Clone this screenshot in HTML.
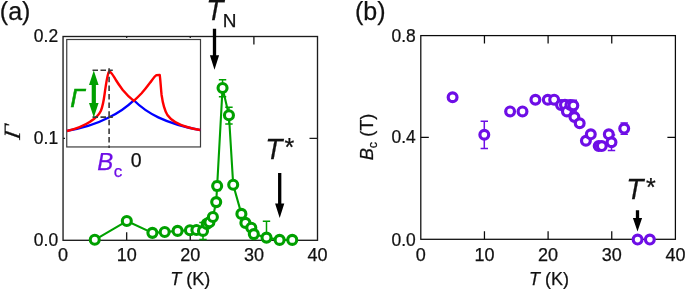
<!DOCTYPE html><html><head><meta charset="utf-8"><title>Figure</title>
<style>html,body{margin:0;padding:0;background:#fff}svg{display:block}text{font-family:"Liberation Sans",Arial,sans-serif;fill:#111;stroke:#111;stroke-width:0.25px}.i{font-style:italic}.s{font-family:"Liberation Serif",serif;font-style:italic}</style></head><body>
<svg width="685" height="289" viewBox="0 0 685 289">
<rect width="685" height="289" fill="#fff"/>
<rect x="63.05" y="36.5" width="254.45" height="203.80" fill="none" stroke="#1c1c1c" stroke-width="1.35"/>
<path d="M126.66 240.3v-8M126.66 36.5v8M190.27 240.3v-8M190.27 36.5v8M253.89 240.3v-8M253.89 36.5v8M63.05 138.40h8M317.5 138.40h-8" stroke="#1c1c1c" stroke-width="1.35" fill="none"/>
<rect x="420.8" y="35.6" width="254.60" height="203.70" fill="none" stroke="#0a0a0a" stroke-width="1.25"/>
<path d="M484.45 239.3v-8M484.45 35.6v8M548.10 239.3v-8M548.10 35.6v8M611.75 239.3v-8M611.75 35.6v8M420.8 137.45h8M675.4 137.45h-8" stroke="#0a0a0a" stroke-width="1.25" fill="none"/>
<path d="M222.55 79.7V96.7M218.85000000000002 79.7h7.4M218.85000000000002 96.7h7.4M228.95 107.3V123.9M225.25 107.3h7.4M225.25 123.9h7.4M203.0 222.4V239.4M199.3 222.4h7.4M199.3 239.4h7.4M266.5 221.2V240.3M262.8 221.2h7.4M262.8 240.3h7.4M217.15 181.4V190.4M213.45000000000002 181.4h7.4M213.45000000000002 190.4h7.4" stroke="#00a000" stroke-width="1.5" fill="none"/>
<polyline points="94.75,239.8 126.8,221.05 152.4,232.85 164.7,232.05 177.6,230.9 189.95,230.25 196.4,230.0 203.0,230.9 206.8,223.9 209.4,222.2 212.9,217.0 216.2,202.1 217.15,186.0 222.55,88.0 228.95,115.2 233.2,184.8 241.4,213.9 245.4,222.9 251.3,227.7 253.8,234.1 266.5,237.6 279.6,239.9 292.25,239.9" fill="none" stroke="#00a000" stroke-width="2.1" stroke-linejoin="round"/>
<g fill="#fff" stroke="#00a000" stroke-width="3.1">
<circle cx="94.75" cy="239.8" r="4.5"/>
<circle cx="126.8" cy="221.05" r="4.5"/>
<circle cx="152.4" cy="232.85" r="4.5"/>
<circle cx="164.7" cy="232.05" r="4.5"/>
<circle cx="177.6" cy="230.9" r="4.5"/>
<circle cx="189.95" cy="230.25" r="4.5"/>
<circle cx="196.4" cy="230.0" r="4.5"/>
<circle cx="203.0" cy="230.9" r="4.5"/>
<circle cx="206.8" cy="223.9" r="4.5"/>
<circle cx="209.4" cy="222.2" r="4.5"/>
<circle cx="212.9" cy="217.0" r="4.5"/>
<circle cx="216.2" cy="202.1" r="4.5"/>
<circle cx="217.15" cy="186.0" r="4.5"/>
<circle cx="222.55" cy="88.0" r="4.5"/>
<circle cx="228.95" cy="115.2" r="4.5"/>
<circle cx="233.2" cy="184.8" r="4.5"/>
<circle cx="241.4" cy="213.9" r="4.5"/>
<circle cx="245.4" cy="222.9" r="4.5"/>
<circle cx="251.3" cy="227.7" r="4.5"/>
<circle cx="253.8" cy="234.1" r="4.5"/>
<circle cx="266.5" cy="237.6" r="4.5"/>
<circle cx="279.6" cy="239.9" r="4.5"/>
<circle cx="292.25" cy="239.9" r="4.5"/>
</g>
<rect x="65.0" y="38.0" width="136.7" height="109.6" fill="#fff"/>
<rect x="66.75" y="39.5" width="133.75" height="107.44999999999999" fill="#fff" stroke="#3c3c3c" stroke-width="1.2"/>
<path d="M67 130.8 C82 128.3 98 123 109.3 117.2 C120 112 128 105.8 133.8 100.3 C139 105.5 147 112 158.3 117.4 C170 123 186 127.5 200.3 130.2" fill="none" stroke="#0000ff" stroke-width="2.3"/>
<path d="M67 131 C75 129 83.5 126 90.5 121.4 C95.3 118.5 98.8 115.5 100.9 110.8 C102.8 106 103.8 100 104.6 94 C105.7 86 107.3 75 108.8 72 L110.2 71.9 C112.5 73.8 114 77 116.2 80.5 C119 85 121 87.5 123 90.3 C126 94 130 98 133.8 100.9 C137 98 140 95 141.6 93.3 C145 89.5 148 85.5 150 82.8 C152.5 79.5 154.5 76.3 156.3 75.2 L159.7 74.9 C160.5 80 160.8 88 161.6 95 C162.8 103.5 164.4 110 167.4 115 C171.6 121 180 125 187 127 C192 128.5 196 129.3 200.3 130" fill="none" stroke="#ff0000" stroke-width="2.4" stroke-linejoin="round"/>
<path d="M92.5 70.2H112.8M92.5 117.1H112.8" stroke="#3a3a3a" stroke-width="1.6" stroke-dasharray="5.5 2.5" fill="none"/>
<path d="M109.1 68.2V148" stroke="#3a3a3a" stroke-width="1.6" stroke-dasharray="5.5 3.1" fill="none"/>
<path d="M93.8 70.6L98.6 85H95.9V103H98.6L93.8 117.4L89 103H91.7V85H89Z" fill="#00a000"/>
<text class="i" transform="translate(70.2 106.8) scale(1.0 1)" font-size="26" style="fill:#00a000;stroke:#00a000;stroke-width:0.5">Γ</text>
<text class="i" x="97.3" y="170" font-size="24" style="fill:#6e0ee6;stroke:#6e0ee6">B</text>
<text x="113.8" y="177" font-size="17" style="fill:#6e0ee6;stroke:#6e0ee6">c</text>
<text x="136.1" y="166.5" font-size="19.5" text-anchor="middle">0</text>
<path d="M212.85 28.8H216.15V55.3H219.1L214.5 69.8L209.9 55.3H212.85Z" fill="#000"/>
<path d="M278.05 173H281.34999999999997V203.5H284.3L279.7 218L275.09999999999997 203.5H278.05Z" fill="#000"/>
<text class="i" transform="translate(206.2 20.3) scale(1 1.06)" font-size="28">T</text>
<text x="222.8" y="27" font-size="19">N</text>
<text class="i" transform="translate(265.2 158.8) scale(1 1.06)" font-size="28">T</text>
<text x="284.5" y="155.5" font-size="25">*</text>
<text x="-0.2" y="19.9" font-size="25.7" textLength="30.6" lengthAdjust="spacingAndGlyphs">(a)</text>
<text transform="translate(58.1 42.2) scale(0.97 1)" font-size="18" text-anchor="end">0.2</text>
<text transform="translate(58.1 144.1) scale(0.97 1)" font-size="18" text-anchor="end">0.1</text>
<text transform="translate(58.1 246.0) scale(0.97 1)" font-size="18" text-anchor="end">0.0</text>
<text x="63.0" y="261" font-size="18" text-anchor="middle">0</text>
<text x="126.7" y="261" font-size="18" text-anchor="middle">10</text>
<text x="190.3" y="261" font-size="18" text-anchor="middle">20</text>
<text x="253.9" y="261" font-size="18" text-anchor="middle">30</text>
<text x="317.5" y="261" font-size="18" text-anchor="middle">40</text>
<text x="190.3" y="285" font-size="18" text-anchor="middle"><tspan class="i">T</tspan> (K)</text>
<text class="s" transform="translate(20 140.1) rotate(-90) skewX(-10)" font-size="23.4">Γ</text>
<path d="M484.3 121.2V148.5M480.6 121.2h7.4M480.6 148.5h7.4M611.5 135V150.6M607.8 135h7.4M607.8 150.6h7.4M573.35 100.3V111M569.65 100.3h7.4M569.65 111h7.4M564.95 100.2V110M561.25 100.2h7.4M561.25 110h7.4M570.4 100.3V110M566.6999999999999 100.3h7.4M566.6999999999999 110h7.4M624.2 123.0V134.2M620.5 123.0h7.4M620.5 134.2h7.4" stroke="#6e0ee6" stroke-width="1.5" fill="none"/>
<g fill="#fff" stroke="#6e0ee6" stroke-width="3.2">
<circle cx="452.6" cy="97.3" r="4.4"/>
<circle cx="484.3" cy="134.7" r="4.4"/>
<circle cx="510.1" cy="111.4" r="4.4"/>
<circle cx="522.5" cy="111.4" r="4.4"/>
<circle cx="535.4" cy="99.75" r="4.4"/>
<circle cx="547.8" cy="99.8" r="4.4"/>
<circle cx="554.15" cy="99.65" r="4.4"/>
<circle cx="561.0" cy="105.1" r="4.4"/>
<circle cx="564.95" cy="104.8" r="4.4"/>
<circle cx="566.9" cy="111.4" r="4.4"/>
<circle cx="570.4" cy="105.0" r="4.4"/>
<circle cx="573.35" cy="105.5" r="4.4"/>
<circle cx="574.4" cy="117.0" r="4.4"/>
<circle cx="579.7" cy="123.2" r="4.4"/>
<circle cx="585.9" cy="140.8" r="4.4"/>
<circle cx="590.8" cy="134.35" r="4.4"/>
<circle cx="598.7" cy="146.1" r="4.4"/>
<circle cx="601.8" cy="146.1" r="4.4"/>
<circle cx="608.8" cy="134.35" r="4.4"/>
<circle cx="611.5" cy="142.2" r="4.4"/>
<circle cx="624.2" cy="128.6" r="4.4"/>
<circle cx="637.6" cy="239.6" r="4.4"/>
<circle cx="649.85" cy="239.6" r="4.4"/>
</g>
<path d="M635.85 210.2H639.15V218.0H642.1L637.5 231.5L632.9 218.0H635.85Z" fill="#000"/>
<text class="i" transform="translate(626.3 199) scale(1 1.06)" font-size="28">T</text>
<text x="645.9" y="195.5" font-size="25">*</text>
<text x="354.9" y="19.9" font-size="25.7" textLength="30.6" lengthAdjust="spacingAndGlyphs">(b)</text>
<text transform="translate(415.7 41.6) scale(0.97 1)" font-size="18" text-anchor="end">0.8</text>
<text transform="translate(415.7 143.0) scale(0.97 1)" font-size="18" text-anchor="end">0.4</text>
<text transform="translate(415.7 245.5) scale(0.97 1)" font-size="18" text-anchor="end">0.0</text>
<text x="420.8" y="261" font-size="18" text-anchor="middle">0</text>
<text x="484.4" y="261" font-size="18" text-anchor="middle">10</text>
<text x="548.1" y="261" font-size="18" text-anchor="middle">20</text>
<text x="611.8" y="261" font-size="18" text-anchor="middle">30</text>
<text x="675.4" y="261" font-size="18" text-anchor="middle">40</text>
<text x="548.9" y="285" font-size="18" text-anchor="middle"><tspan class="i">T</tspan> (K)</text>
<text transform="translate(373.2 160.3) rotate(-90)" font-size="18.2"><tspan class="i">B</tspan><tspan font-size="12.5" dy="4">c</tspan><tspan dy="-4"> (T)</tspan></text>
</svg></body></html>
